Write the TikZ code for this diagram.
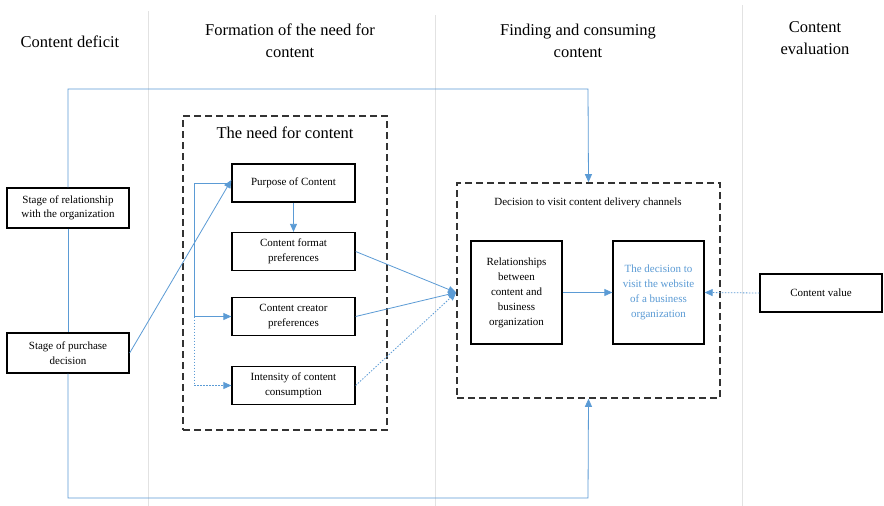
\documentclass[tikz,border=0pt]{standalone}
\usepackage{fontspec}
\setmainfont{Liberation Serif}
\usetikzlibrary{arrows.meta,positioning}
\definecolor{flow}{HTML}{5B9BD5}
\definecolor{colline}{HTML}{E2E2E2}
\definecolor{dashgray}{HTML}{333333}
\tikzset{
  box/.style={draw=black, line width=1.3pt, fill=white, inner sep=2pt, align=center,
    font=\fontsize{11}{14.5}\selectfont},
  groupbox/.style={draw=dashgray, line width=1.6pt, dash pattern=on 7pt off 4pt},
  head/.style={align=center, font=\fontsize{16.5}{22}\selectfont},
  flowline/.style={draw=flow, line width=0.8pt},
  tip/.style={-{Triangle[length=8pt,width=7pt]}},
  dots/.style={dash pattern=on 1.5pt off 1.5pt},
  colsep/.style={draw=colline, line width=1pt}
}
\begin{document}
\begin{tikzpicture}[x=1pt,y=-1pt]
  \fill[white] (0,0) rectangle (884,506);
  \useasboundingbox (0,0) rectangle (884,506);

  % column separators
  \draw[colsep] (148,11) -- (148,506);
  \draw[colsep] (435,15) -- (435,506);
  \draw[colsep] (742,5) -- (742,506);

  % column headings
  \node[head] (h1) at (70,42) {Content deficit};
  \node[head] (h2) at (290,41) {Formation of the need for\\content};
  \node[head] (h3) at (578,41) {Finding and consuming\\content};
  \node[head] (h4) at (815,38) {Content\\evaluation};

  % group frames
  \node[groupbox, minimum width=204pt, minimum height=314pt] (need) at (285,273) {};
  \node[font=\fontsize{16.5}{18}\selectfont] (needtitle) at (285,133) {The need for content};
  \node[groupbox, minimum width=263pt, minimum height=215pt] (decide) at (588.5,290.5) {};
  \node[font=\fontsize{11}{13}\selectfont] (decidetitle) at (588,203) {Decision to visit content delivery channels};

  % loop corners
  \coordinate (tl) at (68,89);
  \coordinate (tr) at (588,89);
  \coordinate (bl) at (68,498);
  \coordinate (br) at (588,498);

  % stage boxes
  \node[box, minimum width=122pt, minimum height=40pt] (rel) at (68,208) {Stage of relationship\\with the organization};
  \node[box, minimum width=122pt, minimum height=40pt] (pur) at (68,353) {Stage of purchase\\decision};

  % need boxes
  \node[box, minimum width=123pt, minimum height=38pt] (purpose) at (293.5,183) {Purpose of Content};
  \node[box, minimum width=123pt, minimum height=38pt] (format) at (293.5,251.5) {Content format\\preferences};
  \node[box, minimum width=123pt, minimum height=38pt] (creator) at (293.5,316.5) {Content creator\\preferences};
  \node[box, minimum width=123pt, minimum height=38pt] (intensity) at (293.5,385.5) {Intensity of content\\consumption};

  % decision boxes
  \node[box, minimum width=91pt, minimum height=103pt, font=\fontsize{11}{15}\selectfont] (relb) at (516.5,292.5) {Relationships\\between\\content and\\business\\organization};
  \node[box, minimum width=91pt, minimum height=103pt, text=flow, font=\fontsize{11}{15}\selectfont] (web) at (658.5,292.5) {The decision to\\visit the website\\of a business\\organization};
  \node[box, minimum width=122pt, minimum height=38pt] (val) at (821,293) {Content value};

  \coordinate (merge) at (decide.west |- relb.west);

  % outer loop
  \draw[flowline, tip] (rel.north) -- (tl) -- (tr) -- (decide.north);
  \draw[flowline] (rel.south) -- (pur.north);
  \draw[flowline, tip] (pur.south) -- (bl) -- (br) -- (decide.south);

  % inputs to purpose of content
  \draw[flowline, tip] (pur.east) -- ([yshift=3pt]purpose.west);
  \draw[flowline, tip] (purpose.south) -- (format.north);
  \draw[flowline, tip] (purpose.west) -- ++(-37,0) |- (creator.west);
  \draw[flowline, tip, dots] ([xshift=-37pt]creator.west) |- (intensity.west);

  % into the decision frame
  \draw[flowline, tip] (format.east) -- (merge);
  \draw[flowline, tip] (creator.east) -- (merge);
  \draw[flowline, tip, dots] (intensity.east) -- (merge);
  \draw[flowline, tip] (relb.east) -- (web.west);
  \draw[flowline, tip, dots] (val.west) -- (web.east);
\end{tikzpicture}
\end{document}
